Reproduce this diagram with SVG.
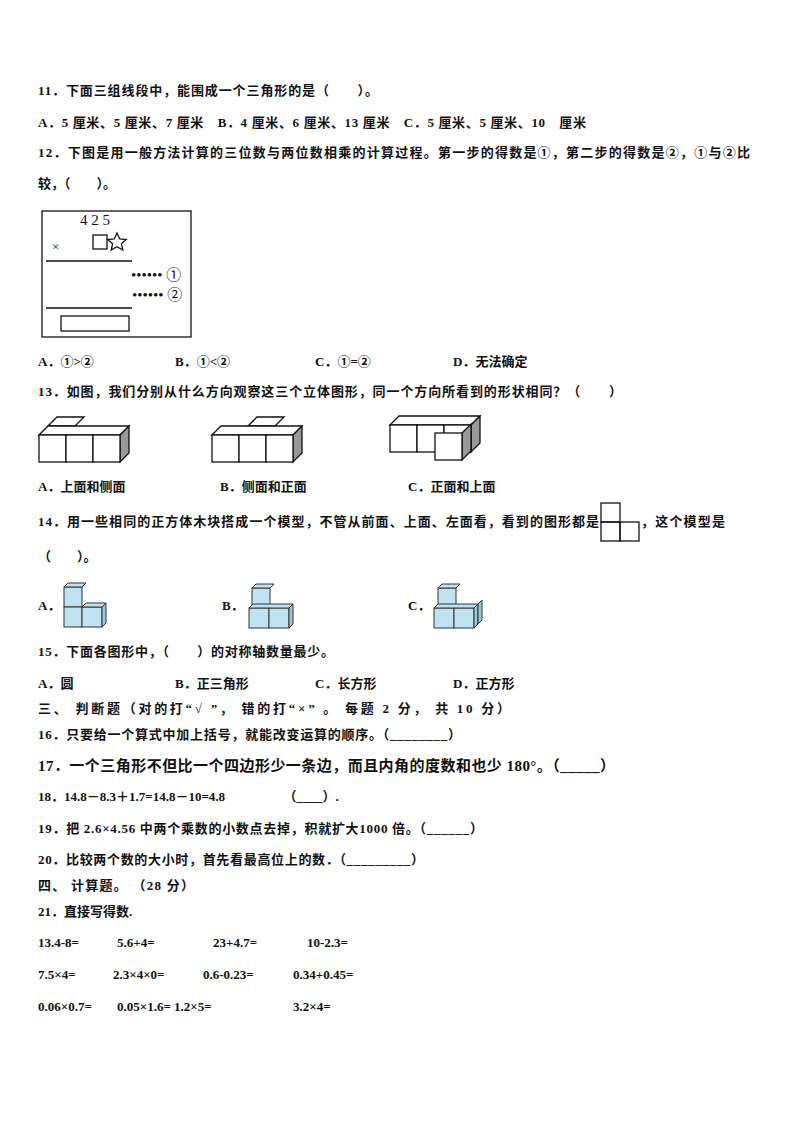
<svg xmlns="http://www.w3.org/2000/svg" width="794" height="1123" viewBox="0 0 794 1123">
<style>
text{font-family:"Liberation Serif","Noto Sans CJK SC",serif;font-size:13px;font-weight:bold;fill:#111}
.l{fill:none;stroke:#111;stroke-width:1.3}
.w{fill:#fff;stroke:#111;stroke-width:1.3}
.g{fill:#999;stroke:#111;stroke-width:1.3}
.b{fill:#bfe3f0;stroke:#333;stroke-width:1}
.bs{fill:#9cc8d8;stroke:#333;stroke-width:1}
</style>
<rect width="794" height="1123" fill="#fff"/>
<text x="38" y="95" textLength="340" lengthAdjust="spacing">11．下面三组线段中，能围成一个三角形的是（　　）。</text>
<text x="38" y="127" textLength="548" lengthAdjust="spacing">A．5 厘米、5 厘米、7 厘米　B．4 厘米、6 厘米、13 厘米　C．5 厘米、5 厘米、10　厘米</text>
<text x="38" y="157" textLength="712" lengthAdjust="spacing">12．下图是用一般方法计算的三位数与两位数相乘的计算过程。第一步的得数是①，第二步的得数是②，①与②比</text>
<text x="38" y="188">较，（　　）。</text>
<g id="fig12">
<rect x="42" y="211" width="149" height="126" class="l"/>
<text x="80" y="225" style="font-weight:normal;font-size:15px">4 2 5</text>
<rect x="93" y="235" width="14" height="14" class="l"/>
<path d="M117,233 l2.8,6 6.4,0.6 -4.8,4.2 1.4,6.2 -5.8,-3.2 -5.8,3.2 1.4,-6.2 -4.8,-4.2 6.4,-0.6z" class="l"/>
<text x="52" y="251" style="font-weight:normal">×</text>
<line x1="46" y1="261" x2="132" y2="261" class="l"/>
<text x="131" y="280" style="font-weight:normal;font-size:15px">•••••• ①</text>
<text x="132" y="300" style="font-weight:normal;font-size:15px">•••••• ②</text>
<line x1="46" y1="308" x2="132" y2="308" class="l"/>
<rect x="61" y="316" width="68" height="15" class="l"/>
</g>
<text x="38" y="366">A．①&gt;②</text><text x="175" y="366">B．①&lt;②</text><text x="315" y="366">C．①=②</text><text x="453" y="366">D．无法确定</text>
<text x="38" y="396" textLength="584" lengthAdjust="spacing">13．如图，我们分别从什么方向观察这三个立体图形，同一个方向所看到的形状相同？（　　）</text>
<g id="fig13a">
<path d="M48,426 l9,-9 h27 l-9,9z" class="w"/>
<path d="M39,435 l9,-9 h81 l-9,9z" class="w"/>
<path d="M120,435 l9,-9 v27 l-9,9z" class="g"/>
<rect x="39" y="435" width="27" height="27" class="w"/><rect x="66" y="435" width="27" height="27" class="w"/><rect x="93" y="435" width="27" height="27" class="w"/>
</g>
<g id="fig13b">
<path d="M248,426 l9,-9 h27 l-9,9z" class="w"/>
<path d="M212,435 l9,-9 h81 l-9,9z" class="w"/>
<path d="M293,435 l9,-9 v27 l-9,9z" class="g"/>
<rect x="212" y="435" width="27" height="27" class="w"/><rect x="239" y="435" width="27" height="27" class="w"/><rect x="266" y="435" width="27" height="27" class="w"/>
</g>
<g id="fig13c">
<path d="M390,425 l9,-9 h81 l-9,9z" class="w"/>
<path d="M471,425 l9,-9 v27 l-9,9z" class="g"/>
<rect x="390" y="425" width="27" height="27" class="w"/><rect x="417" y="425" width="27" height="27" class="w"/><rect x="444" y="425" width="27" height="27" class="w"/>
<path d="M462,433 l9,-9 v27 l-9,9z" class="g"/>
<rect x="435" y="433" width="27" height="27" class="w"/>
</g>
<text x="38" y="491">A．上面和侧面</text><text x="220" y="491">B．侧面和正面</text><text x="408" y="491">C．正面和上面</text>
<text x="38" y="526" textLength="561" lengthAdjust="spacing">14．用一些相同的正方体木块搭成一个模型，不管从前面、上面、左面看，看到的图形都是</text>
<g id="fig14view"><rect x="601" y="503" width="19" height="19" class="l"/><rect x="601" y="522" width="19" height="19" class="l"/><rect x="620" y="522" width="19" height="19" class="l"/></g>
<text x="641" y="526" textLength="84" lengthAdjust="spacing">，这个模型是</text>
<text x="38" y="561">（　　）。</text>
<text x="38" y="610">A．</text>
<g id="fig14a"><rect x="64" y="587" width="18" height="20" class="b"/><rect x="64" y="607" width="18" height="20" class="b"/><rect x="82" y="607" width="20" height="20" class="b"/><path d="M102,607 l4,-4 v20 l-4,4z" class="bs"/><path d="M82,607 l4,-4 h20 l-4,4z" class="b"/><path d="M64,587 l4,-4 h18 l-4,4z" class="b"/></g>
<text x="222" y="610">B．</text>
<g id="fig14b"><rect x="252" y="588" width="18" height="20" class="b"/><path d="M252,588 l4,-4 h18 l-4,4z" class="b"/><rect x="249" y="608" width="20" height="20" class="b"/><rect x="269" y="608" width="20" height="20" class="b"/><path d="M249,608 l4,-4 h40 l-4,4z" class="b"/><path d="M289,608 l4,-4 v20 l-4,4z" class="bs"/></g>
<text x="408" y="610">C．</text>
<g id="fig14c"><rect x="438" y="588" width="18" height="20" class="b"/><path d="M438,588 l4,-4 h18 l-4,4z" class="b"/><rect x="434" y="608" width="20" height="20" class="b"/><rect x="454" y="608" width="20" height="20" class="b"/><path d="M434,608 l4,-4 h40 l-4,4z" class="b"/><path d="M474,608 l4,-4 v20 l-4,4z" class="bs"/><path d="M478,604 l4,-4 v20 l-4,4z" class="bs"/></g>
<text x="38" y="656" textLength="296" lengthAdjust="spacing">15．下面各图形中，（　　）的对称轴数量最少。</text>
<text x="38" y="688">A．圆</text><text x="175" y="688">B．正三角形</text><text x="315" y="688">C．长方形</text><text x="453" y="688">D．正方形</text>
<text x="38" y="713" textLength="472" lengthAdjust="spacing">三、 判断题（对的打“√ ”， 错的打“×” 。 每题 2 分， 共 10 分）</text>
<text x="38" y="739" textLength="423" lengthAdjust="spacing">16．只要给一个算式中加上括号，就能改变运算的顺序。（________）</text>
<text x="38" y="771" style="font-size:15px" textLength="577" lengthAdjust="spacing">17．一个三角形不但比一个四边形少一条边，而且内角的度数和也少 180°。（_____）</text>
<text x="38" y="801">18．14.8－8.3＋1.7=14.8－10=4.8　　　　　（____）.</text>
<text x="38" y="833" textLength="445" lengthAdjust="spacing">19．把 2.6×4.56 中两个乘数的小数点去掉，积就扩大1000 倍。（______）</text>
<text x="38" y="864" textLength="386" lengthAdjust="spacing">20．比较两个数的大小时，首先看最高位上的数．（_________）</text>
<text x="38" y="890" textLength="156" lengthAdjust="spacing">四、 计算题。 （28 分）</text>
<text x="38" y="916">21．直接写得数.</text>
<text x="38" y="947">13.4-8=</text><text x="117" y="947">5.6+4=</text><text x="213" y="947">23+4.7=</text><text x="307" y="947">10-2.3=</text>
<text x="38" y="979">7.5×4=</text><text x="113" y="979">2.3×4×0=</text><text x="203" y="979">0.6-0.23=</text><text x="293" y="979">0.34+0.45=</text>
<text x="38" y="1011">0.06×0.7=</text><text x="117" y="1011">0.05×1.6= 1.2×5=</text><text x="293" y="1011">3.2×4=</text>
</svg>
